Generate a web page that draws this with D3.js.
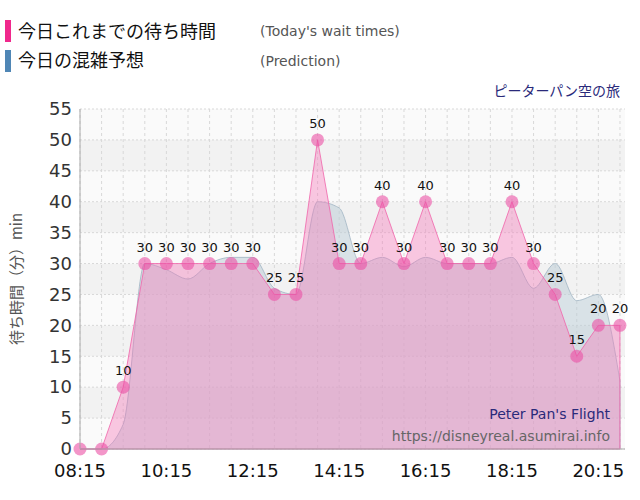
<!DOCTYPE html>
<html><head><meta charset="utf-8">
<script src="https://cdn.jsdelivr.net/npm/d3@7"></script>
<style>body{margin:0;background:#fff;font-family:"Noto Sans CJK JP","DejaVu Sans",sans-serif}</style>
</head><body><div id="chart"></div>
<script>
const times = ['08:15','08:45','09:15','09:45','10:15','10:45','11:15','11:45','12:15','12:45','13:15','13:45','14:15','14:45','15:15','15:45','16:15','16:45','17:15','17:45','18:15','18:45','19:15','19:45','20:15','20:45'];
const waitTimes = [0,0,10,30,30,30,30,30,30,25,25,50,30,30,40,30,40,30,30,30,40,30,25,15,20,20];
const prediction = [0,0,4,30,29,27.5,30,31,31,26,25,40,39,30,31,29.5,31,30,30,30,31,26,30,24,25,11];
const xTicks = ['08:15','10:15','12:15','14:15','16:15','18:15','20:15'];
const yTicks = [0,5,10,15,20,25,30,35,40,45,50,55];

const W = 640, H = 500;
const margin = {top: 109, right: 15, bottom: 51, left: 80};
const width = W - margin.left - margin.right;
const height = H - margin.top - margin.bottom;
const mins = t => { const [h, m] = t.split(':'); return +h * 60 + +m; };
const numFont = '"DejaVu Sans", Verdana, sans-serif';

const svg = d3.select('#chart').append('svg').attr('width', W).attr('height', H);
const g = svg.append('g').attr('transform', `translate(${margin.left},${margin.top})`);

const x = d3.scaleLinear().domain([mins('08:15'), mins('20:45') + 7]).range([0, width]);
const y = d3.scaleLinear().domain([0, 55]).range([height, 0]);

const points = waitTimes.map((v, i) => ({t: times[i], v}));

// alternating bands
for (let i = 0; i < 11; i++) {
  g.append('rect').attr('x', 0).attr('width', width)
    .attr('y', y(5 * (i + 1))).attr('height', y(5 * i) - y(5 * (i + 1)))
    .attr('fill', i % 2 ? '#f2f2f2' : '#fafafa');
}
// grid
g.selectAll('.hg').data(yTicks).enter().append('line')
  .attr('x1', 0).attr('x2', width).attr('y1', d => y(d)).attr('y2', d => y(d))
  .attr('stroke', '#d8d8d8').attr('stroke-dasharray', '2,2');
g.selectAll('.vg').data(times).enter().append('line')
  .attr('x1', d => x(mins(d))).attr('x2', d => x(mins(d))).attr('y1', 0).attr('y2', height)
  .attr('stroke', '#d8d8d8').attr('stroke-dasharray', '3,3');

// prediction area
const areaP = d3.area().x((d, i) => x(mins(times[i]))).y0(height).y1(d => y(d)).curve(d3.curveMonotoneX);
g.append('path').datum(prediction).attr('d', areaP)
  .attr('fill', 'rgba(190,205,215,0.55)').attr('stroke', 'rgba(160,180,195,0.8)');

// wait area
const areaW = d3.area().x(d => x(mins(d.t))).y0(height).y1(d => y(d.v));
g.append('path').datum(points).attr('d', areaW)
  .attr('fill', 'rgba(245,120,185,0.4)').attr('stroke', 'rgba(240,100,170,0.8)');

g.selectAll('.pt').data(points).enter().append('circle')
  .attr('cx', d => x(mins(d.t))).attr('cy', d => y(d.v)).attr('r', 6.5)
  .attr('fill', 'rgba(235,80,165,0.6)');
g.selectAll('.lbl').data(points.filter(d => d.v > 0)).enter().append('text')
  .attr('x', d => x(mins(d.t))).attr('y', d => y(d.v) - 12)
  .attr('text-anchor', 'middle').attr('font-size', 13).attr('font-family', numFont).attr('fill', '#111')
  .text(d => d.v);

// axes
g.append('line').attr('x1', 0).attr('x2', 0).attr('y1', 0).attr('y2', height).attr('stroke', '#aaa');
g.append('line').attr('x1', 0).attr('x2', width).attr('y1', height).attr('y2', height).attr('stroke', '#aaa');
g.selectAll('.yt').data(yTicks).enter().append('text')
  .attr('x', -8).attr('y', d => y(d)).attr('dy', '0.35em').attr('text-anchor', 'end')
  .attr('font-size', 18).attr('font-family', numFont).attr('fill', '#333').text(d => d);
g.selectAll('.xt').data(xTicks).enter().append('text')
  .attr('x', d => x(mins(d))).attr('y', height + 28).attr('text-anchor', 'middle')
  .attr('font-size', 18).attr('font-family', numFont).attr('fill', '#111').text(d => d);

svg.append('text').attr('transform', `translate(22,${margin.top + height / 2}) rotate(-90)`)
  .attr('text-anchor', 'middle').attr('font-size', 15).attr('fill', '#555')
  .text('待ち時間（分）min');

// legend
svg.append('rect').attr('x', 5).attr('y', 20).attr('width', 6).attr('height', 22).attr('fill', '#f0288c');
svg.append('rect').attr('x', 5).attr('y', 50).attr('width', 6).attr('height', 22).attr('fill', '#4f86b5');
svg.append('text').attr('x', 18).attr('y', 38).attr('font-size', 18).attr('fill', '#111').text('今日これまでの待ち時間');
svg.append('text').attr('x', 18).attr('y', 67).attr('font-size', 18).attr('fill', '#111').text('今日の混雑予想');
svg.append('text').attr('x', 260).attr('y', 36).attr('font-size', 14).attr('font-family', numFont).attr('fill', '#555').text("(Today's wait times)");
svg.append('text').attr('x', 260).attr('y', 66).attr('font-size', 14).attr('font-family', numFont).attr('fill', '#555').text('(Prediction)');
svg.append('text').attr('x', 620).attr('y', 96).attr('text-anchor', 'end').attr('font-size', 14).attr('fill', '#2a2a7a').text('ピーターパン空の旅');
svg.append('text').attr('x', 610).attr('y', 419).attr('text-anchor', 'end').attr('font-size', 14).attr('font-family', numFont).attr('fill', '#2a2a7a').text("Peter Pan's Flight");
svg.append('text').attr('x', 610).attr('y', 441).attr('text-anchor', 'end').attr('font-size', 14).attr('font-family', numFont).attr('fill', '#666').text('https://disneyreal.asumirai.info');
</script></body></html>
